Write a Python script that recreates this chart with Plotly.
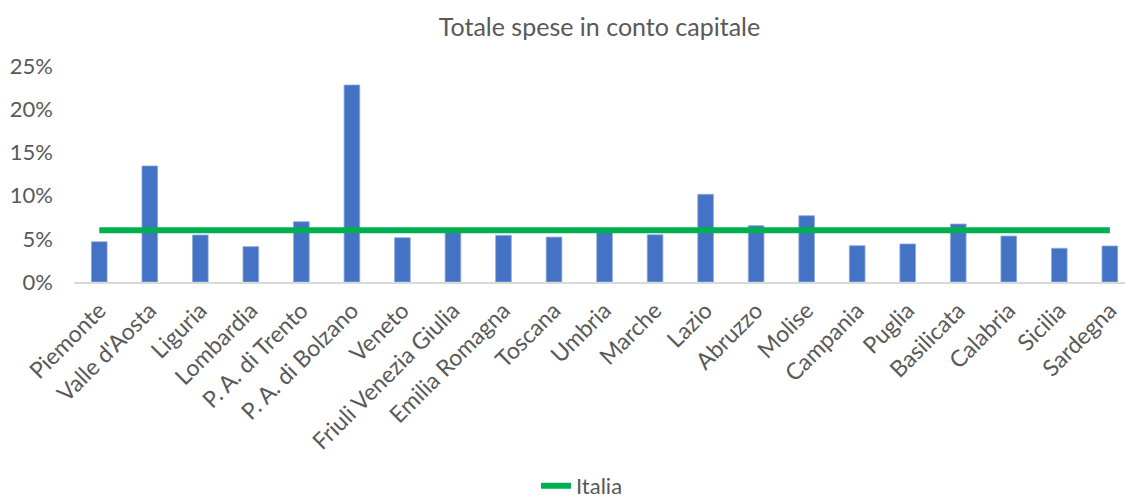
import plotly.graph_objects as go

regioni = ["Piemonte", "Valle d'Aosta", "Liguria", "Lombardia", "P. A. di Trento",
           "P. A. di Bolzano", "Veneto", "Friuli Venezia Giulia", "Emilia Romagna",
           "Toscana", "Umbria", "Marche", "Lazio", "Abruzzo", "Molise", "Campania",
           "Puglia", "Basilicata", "Calabria", "Sicilia", "Sardegna"]
valori = [0.0466, 0.1343, 0.0544, 0.0409, 0.0698, 0.2280, 0.0513, 0.0610, 0.0540,
          0.0520, 0.0605, 0.0547, 0.1015, 0.0652, 0.0767, 0.0420, 0.0440, 0.0671,
          0.0532, 0.0390, 0.0417]
italia = [0.0598] * len(regioni)

FONT = "Lato"
GRAY = "#595959"

fig = go.Figure()
fig.add_trace(go.Bar(
    x=regioni, y=valori, name="Regioni", showlegend=False,
    marker=dict(color="#4472C4", line=dict(color="#8FAADC", width=0.8)),
    width=0.31,
))
fig.add_trace(go.Scatter(
    x=regioni, y=italia, name="Italia", mode="lines",
    line=dict(color="#00B050", width=6),
))

fig.update_layout(
    width=1125, height=501,
    margin=dict(l=74, r=0, t=66, b=219),
    plot_bgcolor="white", paper_bgcolor="white",
    font=dict(family=FONT, color=GRAY, size=22),
    title=dict(text="Totale spese in conto capitale", x=0.5, xref="paper",
               xanchor="center", y=1 - 27 / 501, yref="container", yanchor="middle",
               font=dict(family=FONT, size=25, color=GRAY)),
    xaxis=dict(range=[-0.5, 20.3], tickangle=-45, showline=True, linecolor="#D9D9D9",
               linewidth=2, ticks="", showgrid=False, ticklabelstandoff=4,
               tickfont=dict(family=FONT, size=23, color=GRAY)),
    yaxis=dict(range=[0, 0.25], tickvals=[0, 0.05, 0.10, 0.15, 0.20, 0.25],
               tickformat=".0%", showgrid=False, zeroline=False, showline=False,
               ticks="", ticklabelstandoff=20,
               tickfont=dict(family=FONT, size=22, color=GRAY)),
    legend=dict(orientation="h", x=582 / 1125, xanchor="center", xref="container",
                y=0.03, yref="container", yanchor="middle",
                font=dict(family=FONT, size=22, color=GRAY)),
    hovermode=False,
)

fig.write_html("out.html")
